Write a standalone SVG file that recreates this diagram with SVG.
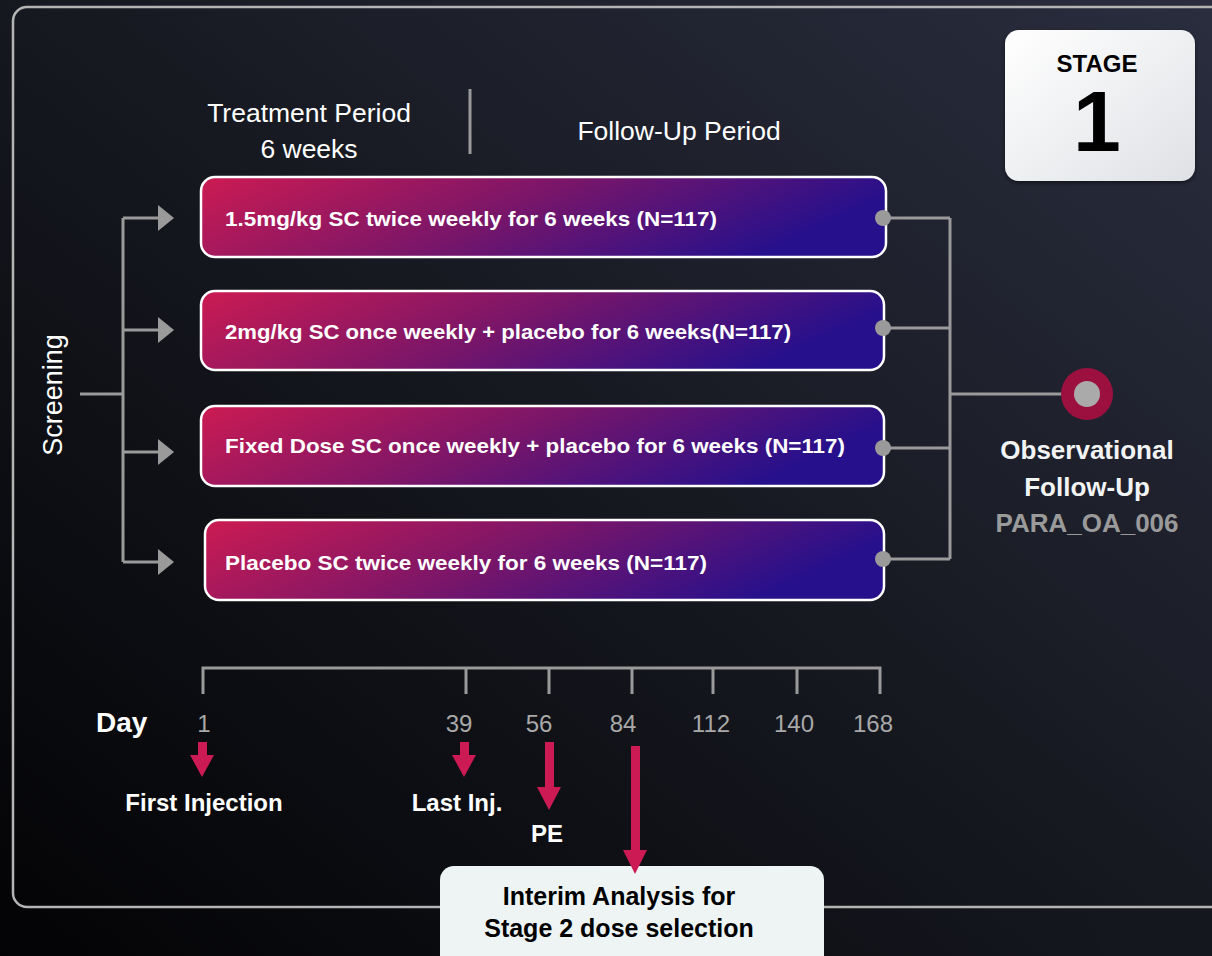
<svg xmlns="http://www.w3.org/2000/svg" width="1212" height="956" viewBox="0 0 1212 956">
<defs>
<linearGradient id="bg" x1="0" y1="1" x2="1" y2="0">
<stop offset="0" stop-color="#030305"/>
<stop offset="0.45" stop-color="#14161d"/>
<stop offset="1" stop-color="#2a2d3e"/>
</linearGradient>
<linearGradient id="boxg" x1="0" y1="0" x2="1" y2="0.25" gradientUnits="objectBoundingBox">
<stop offset="0" stop-color="#cc1b52"/>
<stop offset="0.5" stop-color="#7c1668"/>
<stop offset="1" stop-color="#26108c"/>
</linearGradient>
<linearGradient id="stageg" x1="0" y1="0" x2="1" y2="1">
<stop offset="0" stop-color="#ffffff"/>
<stop offset="1" stop-color="#dfe1e5"/>
</linearGradient>
<filter id="sh" x="-10%" y="-10%" width="120%" height="125%">
<feDropShadow dx="0" dy="2" stdDeviation="2" flood-color="#000" flood-opacity="0.5"/>
</filter>
<marker id="garrow" markerWidth="16" markerHeight="26" refX="0" refY="13" orient="auto" markerUnits="userSpaceOnUse">
<path d="M0,0 L16,13 L0,26 Z" fill="#9a9a9a"/>
</marker>
</defs>
<style>
.t{font-family:"Liberation Sans",Arial,sans-serif;}
.box{fill:url(#boxg);stroke:#ffffff;stroke-width:2.5;}
.btxt{font-family:"Liberation Sans",Arial,sans-serif;font-weight:bold;font-size:21px;fill:#ffffff;}
.conn{stroke:#9a9a9a;stroke-width:3;fill:none;}
.dot{fill:#9a9a9a;}
.tick{stroke:#9a9a9a;stroke-width:3;fill:none;}
.num{font-family:"Liberation Sans",Arial,sans-serif;font-size:24px;fill:#a8a8a8;text-anchor:middle;}
.red{fill:#cc1a55;}
.lbl{font-family:"Liberation Sans",Arial,sans-serif;font-size:24px;fill:#ffffff;font-weight:bold;}
</style>
<rect x="0" y="0" width="1212" height="956" fill="url(#bg)"/>
<polygon points="1083,907 1212,907 1212,956 1103,956" fill="#15171f"/>
<rect x="13" y="7" width="1230" height="900" rx="14" fill="none" stroke="#b4b4b4" stroke-width="2.5"/>

<g id="headers">
<text class="t" x="309" y="122" font-size="26.5" fill="#ffffff" text-anchor="middle">Treatment Period</text>
<text class="t" x="309" y="158" font-size="26.5" fill="#ffffff" text-anchor="middle">6 weeks</text>
<line x1="470" y1="89" x2="470" y2="154" stroke="#9a9a9a" stroke-width="3"/>
<text class="t" x="679" y="140" font-size="26.5" fill="#ffffff" text-anchor="middle">Follow-Up Period</text>
</g>

<g id="stage">
<rect x="1005" y="30" width="190" height="151" rx="14" fill="url(#stageg)" filter="url(#sh)"/>
<text class="t" x="1097" y="72" font-size="24" font-weight="bold" fill="#000" text-anchor="middle">STAGE</text>
<text class="t" x="1097" y="151" font-size="86" font-weight="bold" fill="#000" text-anchor="middle">1</text>
</g>

<g id="screening">
<text class="t" x="0" y="0" font-size="27" fill="#ffffff" text-anchor="middle" transform="translate(62,395) rotate(-90)">Screening</text>
</g>

<g id="connectors">
<path class="conn" d="M80,394 H123 M123,218 V562"/>
<path class="conn" d="M123,218 H158" marker-end="url(#garrow)"/>
<path class="conn" d="M123,330 H158" marker-end="url(#garrow)"/>
<path class="conn" d="M123,452 H158" marker-end="url(#garrow)"/>
<path class="conn" d="M123,562 H158" marker-end="url(#garrow)"/>
<path class="conn" d="M883,218 H950 M883,328 H950 M883,448 H950 M883,559 H950 M950,218 V559 M950,394 H1068"/>
</g>

<g id="arm1">
<rect class="box" x="201" y="177" width="685" height="80" rx="14"/>
<text class="btxt" x="225" y="226" textLength="492" lengthAdjust="spacingAndGlyphs">1.5mg/kg  SC twice weekly for 6 weeks (N=117)</text>
<circle class="dot" cx="883" cy="218" r="8"/>
</g>
<g id="arm2">
<rect class="box" x="201" y="291" width="683" height="79" rx="14"/>
<text class="btxt" x="225" y="339" textLength="566" lengthAdjust="spacingAndGlyphs">2mg/kg SC once weekly + placebo for 6 weeks(N=117)</text>
<circle class="dot" cx="883" cy="328" r="8"/>
</g>
<g id="arm3">
<rect class="box" x="201" y="406" width="683" height="80" rx="14"/>
<text class="btxt" x="225" y="453" textLength="620" lengthAdjust="spacingAndGlyphs">Fixed Dose SC once weekly + placebo for 6 weeks (N=117)</text>
<circle class="dot" cx="883" cy="448" r="8"/>
</g>
<g id="arm4">
<rect class="box" x="205" y="520" width="679" height="80" rx="14"/>
<text class="btxt" x="225" y="570" textLength="482" lengthAdjust="spacingAndGlyphs">Placebo SC twice weekly for 6 weeks (N=117)</text>
<circle class="dot" cx="883" cy="559" r="8"/>
</g>

<g id="followup">
<circle cx="1087" cy="394" r="26" fill="#9c1040"/>
<circle cx="1087" cy="394" r="13" fill="#aaaaaa"/>
<text class="t" x="1087" y="459" font-size="26" font-weight="bold" fill="#f2f4f4" text-anchor="middle">Observational</text>
<text class="t" x="1087" y="496" font-size="26" font-weight="bold" fill="#f2f4f4" text-anchor="middle">Follow-Up</text>
<text class="t" x="1087" y="532" font-size="26" font-weight="bold" fill="#9a9a9a" text-anchor="middle">PARA_OA_006</text>
</g>

<g id="timeline">
<path class="tick" d="M203,694 V668 H880 V694 M466,668 V694 M549,668 V694 M632,668 V694 M713,668 V694 M797,668 V694"/>
<text class="t" x="96" y="732" font-size="28" font-weight="bold" fill="#ffffff">Day</text>
<text class="num" x="204" y="732">1</text>
<text class="num" x="459" y="732">39</text>
<text class="num" x="539" y="732">56</text>
<text class="num" x="623" y="732">84</text>
<text class="num" x="711" y="732">112</text>
<text class="num" x="794" y="732">140</text>
<text class="num" x="873" y="732">168</text>
</g>

<g id="first-injection">
<path class="red" d="M198,742 H207 V755 H214 L202,777 L190,755 H198 Z"/>
<text class="lbl" x="204" y="811" text-anchor="middle">First Injection</text>
</g>
<g id="last-inj">
<path class="red" d="M460,742 H469 V755 H476 L464,777 L452,755 H460 Z"/>
<text class="lbl" x="457" y="811" text-anchor="middle">Last Inj.</text>
</g>
<g id="pe">
<path class="red" d="M545,742 H554 V787 H561 L549,810 L537,787 H545 Z"/>
<text class="lbl" x="547" y="842" text-anchor="middle">PE</text>
</g>
<g id="interim">
<rect x="440" y="866" width="384" height="110" rx="14" fill="#eef4f4"/>
<path class="red" d="M631,746 H640 V850 H647 L635,874 L623,850 H631 Z"/>
<text class="t" x="619" y="905" font-size="25" font-weight="bold" fill="#000" text-anchor="middle">Interim Analysis for</text>
<text class="t" x="619" y="937" font-size="25" font-weight="bold" fill="#000" text-anchor="middle">Stage 2 dose selection</text>
</g>
</svg>
